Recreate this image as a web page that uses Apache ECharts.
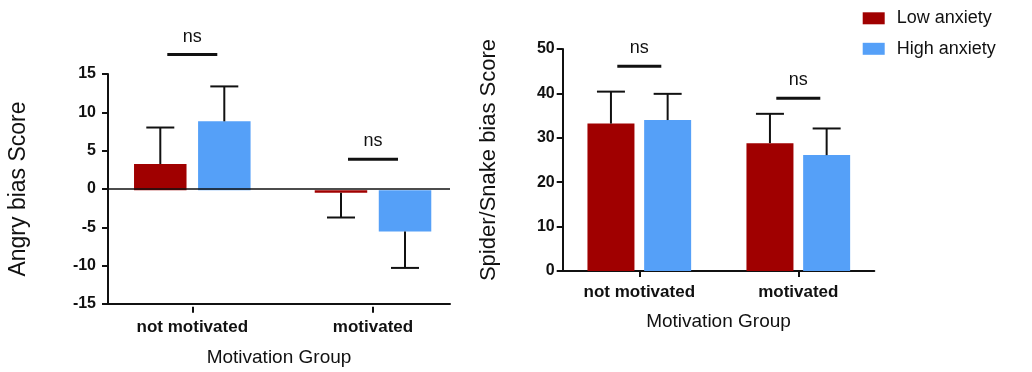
<!DOCTYPE html>
<html>
<head>
<meta charset="utf-8">
<script src="https://cdn.jsdelivr.net/npm/echarts@6/dist/echarts.min.js"></script>
<style>html,body{margin:0;padding:0;background:#fff;}#c{width:1032px;height:372px;}</style>
</head>
<body>
<div id="c"></div>
<script>
var categories = ['not motivated', 'motivated'];
var seriesNames = ['Low anxiety', 'High anxiety'];
// Left panel: Angry bias score
var angryLow = [3.4, -0.3];
var angryHigh = [8.9, -5.3];
var angryLowWhisker = [8.1, -3.5];
var angryHighWhisker = [13.4, -10.0];
var angrySigLevel = [17.5, 4.0];
var angryTicks = [-15, 15, 5];
// Right panel: Spider/Snake bias score
var spiderLow = [33.2, 28.8];
var spiderHigh = [34.0, 26.1];
var spiderLowWhisker = [40.4, 35.4];
var spiderHighWhisker = [39.9, 32.1];
var spiderSigLevel = [46.1, 38.9];
var spiderTicks = [0, 50, 10];
var sigLabels = ['ns', 'ns'];

var FONT = "'Liberation Sans', Arial, Helvetica, sans-serif";
var RED = '#a00000', BLUE = '#55a0f8', INK = '#111111';

function errRender(offsetPx, capHalf) {
  return function (params, api) {
    var cat = api.value(0), mean = api.value(1), end = api.value(2), side = api.value(3);
    var p0 = api.coord([cat, mean]);
    var p1 = api.coord([cat, end]);
    var x = p0[0] + side * offsetPx;
    return {
      type: 'group',
      children: [
        { type: 'line', shape: { x1: x, y1: p0[1], x2: x, y2: p1[1] }, style: { stroke: INK, lineWidth: 2 } },
        { type: 'line', shape: { x1: x - capHalf, y1: p1[1], x2: x + capHalf, y2: p1[1] }, style: { stroke: INK, lineWidth: 2 } }
      ]
    };
  };
}
function sigRender(halfW) {
  return function (params, api) {
    var p = api.coord([api.value(0), api.value(1)]);
    return {
      type: 'group',
      children: [
        { type: 'line', shape: { x1: p[0] - halfW, y1: p[1], x2: p[0] + halfW, y2: p[1] }, style: { stroke: INK, lineWidth: 3 } },
        { type: 'text', x: p[0], y: p[1] - 18, style: { text: sigLabels[params.dataIndex], fill: INK, font: '18px ' + FONT, align: 'center', verticalAlign: 'middle' } }
      ]
    };
  };
}
function errData(means, whiskers, side) {
  return categories.map(function (c, i) { return [i, means[i], whiskers[i], side]; });
}
function sigData(levels) {
  return categories.map(function (c, i) { return [i, levels[i]]; });
}

var gridL = { top: 74, height: 232.7 };
var gridR = { top: 49, height: 222 };

var catAxisBase = function (gi, margin) {
  return {
    type: 'category', gridIndex: gi, data: categories,
    axisLine: { show: false, onZero: false },
    axisTick: { show: true, alignWithLabel: true, length: 6, lineStyle: { color: INK, width: 2 } },
    axisLabel: { color: INK, fontFamily: FONT, fontWeight: 'bold', fontSize: 17, margin: margin },
    splitLine: { show: false }
  };
};
var lineAxisBase = function (gi, gap) {
  return {
    type: 'value', gridIndex: gi, min: 0, max: 1,
    axisLine: { show: true, onZero: false, lineStyle: { color: INK, width: 2 } },
    axisTick: { show: false }, axisLabel: { show: false }, splitLine: { show: false },
    name: 'Motivation Group', nameLocation: 'middle', nameGap: gap,
    nameTextStyle: { color: INK, fontFamily: FONT, fontSize: 19 }
  };
};

var option = {
  animation: false,
  backgroundColor: '#ffffff',
  textStyle: { fontFamily: FONT },
  legend: {
    orient: 'vertical', left: 862.7, top: 9.3, padding: 0,
    itemWidth: 22, itemHeight: 12, itemGap: 12.5, icon: 'rect',
    textStyle: { color: INK, fontFamily: FONT, fontSize: 18, padding: [0, 0, 0, 7] },
    data: seriesNames
  },
  grid: [
    { left: 101.95, width: 361.4, top: gridL.top, height: gridL.height },
    { left: 108, width: 342, top: gridL.top, height: gridL.height },
    { left: 559.8, width: 318, top: gridR.top, height: gridR.height },
    { left: 562.7, width: 311.6, top: gridR.top, height: gridR.height }
  ],
  xAxis: [catAxisBase(0, 12), lineAxisBase(1, 44), catAxisBase(2, 12.5), lineAxisBase(3, 41.5)],
  yAxis: [
    { type: 'value', gridIndex: 0, min: angryTicks[0], max: angryTicks[1], interval: angryTicks[2], show: false },
    {
      type: 'value', gridIndex: 1, min: angryTicks[0], max: angryTicks[1], interval: angryTicks[2],
      axisLine: { show: true, onZero: false, lineStyle: { color: INK, width: 2 } },
      axisTick: { show: true, length: 6, lineStyle: { color: INK, width: 2 } },
      axisLabel: { color: INK, fontFamily: FONT, fontWeight: 'bold', fontSize: 16, margin: 12 },
      splitLine: { show: false },
      name: 'Angry bias Score', nameLocation: 'middle', nameGap: 78, nameRotate: 90,
      nameTextStyle: { color: INK, fontFamily: FONT, fontSize: 23 }
    },
    { type: 'value', gridIndex: 2, min: spiderTicks[0], max: spiderTicks[1], interval: spiderTicks[2], show: false },
    {
      type: 'value', gridIndex: 3, min: spiderTicks[0], max: spiderTicks[1], interval: spiderTicks[2],
      axisLine: { show: true, onZero: false, lineStyle: { color: INK, width: 2 } },
      axisTick: { show: true, length: 6, lineStyle: { color: INK, width: 2 } },
      axisLabel: { color: INK, fontFamily: FONT, fontWeight: 'bold', fontSize: 16, margin: 8 },
      splitLine: { show: false },
      name: 'Spider/Snake bias Score', nameLocation: 'middle', nameGap: 63, nameRotate: 90,
      nameTextStyle: { color: INK, fontFamily: FONT, fontSize: 22 }
    }
  ],
  series: [
    { name: seriesNames[0], type: 'bar', xAxisIndex: 0, yAxisIndex: 0, data: angryLow, barWidth: 52.5, barGap: '22%', itemStyle: { color: RED } },
    { name: seriesNames[1], type: 'bar', xAxisIndex: 0, yAxisIndex: 0, data: angryHigh, barWidth: 52.5, barGap: '22%', itemStyle: { color: BLUE } },
    { type: 'custom', xAxisIndex: 0, yAxisIndex: 0, z: 5, clip: false, renderItem: errRender(32, 14), data: errData(angryLow, angryLowWhisker, -1) },
    { type: 'custom', xAxisIndex: 0, yAxisIndex: 0, z: 5, clip: false, renderItem: errRender(32, 14), data: errData(angryHigh, angryHighWhisker, 1) },
    { type: 'custom', xAxisIndex: 0, yAxisIndex: 0, z: 5, clip: false, renderItem: sigRender(25), data: sigData(angrySigLevel) },
    {
      type: 'line', xAxisIndex: 1, yAxisIndex: 1, data: [], showSymbol: false, z: 6,
      markLine: { silent: true, symbol: 'none', label: { show: false }, lineStyle: { color: INK, width: 1.5, type: 'solid' }, data: [{ yAxis: 0 }] }
    },
    { name: seriesNames[0], type: 'bar', xAxisIndex: 2, yAxisIndex: 2, data: spiderLow, barWidth: 47, barGap: '20.6%', itemStyle: { color: RED } },
    { name: seriesNames[1], type: 'bar', xAxisIndex: 2, yAxisIndex: 2, data: spiderHigh, barWidth: 47, barGap: '20.6%', itemStyle: { color: BLUE } },
    { type: 'custom', xAxisIndex: 2, yAxisIndex: 2, z: 5, clip: false, renderItem: errRender(28.35, 14), data: errData(spiderLow, spiderLowWhisker, -1) },
    { type: 'custom', xAxisIndex: 2, yAxisIndex: 2, z: 5, clip: false, renderItem: errRender(28.35, 14), data: errData(spiderHigh, spiderHighWhisker, 1) },
    { type: 'custom', xAxisIndex: 2, yAxisIndex: 2, z: 5, clip: false, renderItem: sigRender(22), data: sigData(spiderSigLevel) }
  ]
};
var chart = echarts.init(document.getElementById('c'), null, { renderer: 'canvas' });
chart.setOption(option);
</script>
</body>
</html>
